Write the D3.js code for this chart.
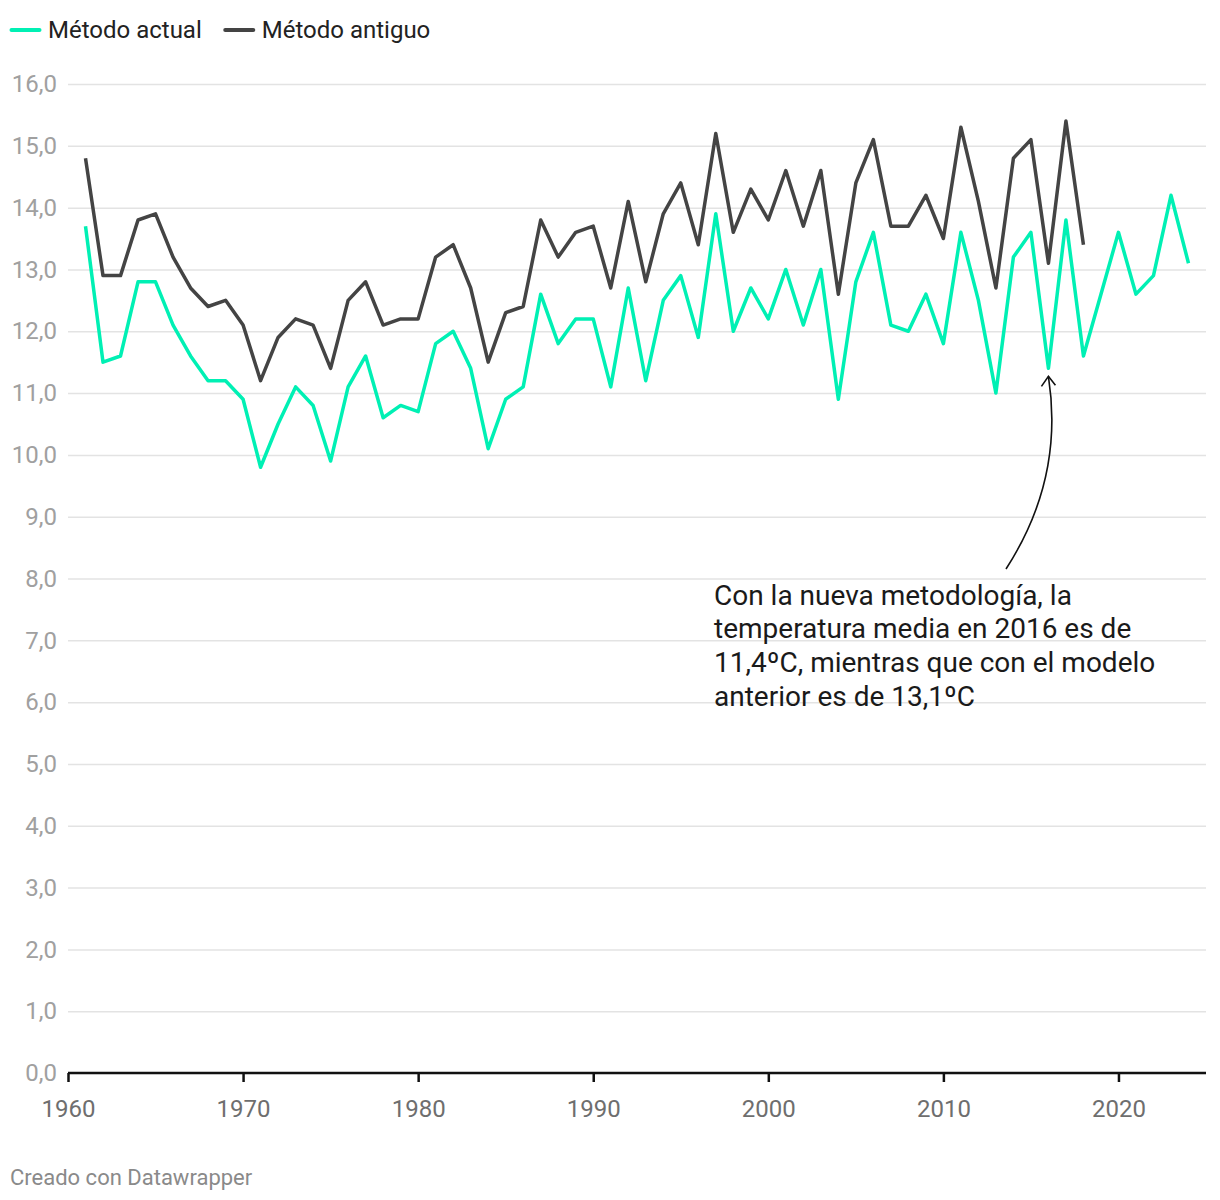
<!DOCTYPE html>
<html>
<head>
<meta charset="utf-8">
<script src="https://cdn.jsdelivr.net/npm/d3@7"></script>
<style>
  html, body { margin: 0; padding: 0; background: #fff; }
  svg { display: block; font-family: Roboto, "Noto Sans", sans-serif; }
</style>
</head>
<body>
<svg id="chart" width="1220" height="1200"></svg>
<script>
const years = d3.range(1961, 2025);
const actual = [
  13.7, 11.5, 11.6, 12.8, 12.8, 12.1, 11.6, 11.2, 11.2, 10.9,
  9.8, 10.5, 11.1, 10.8, 9.9, 11.1, 11.6, 10.6, 10.8, 10.7,
  11.8, 12.0, 11.4, 10.1, 10.9, 11.1, 12.6, 11.8, 12.2, 12.2,
  11.1, 12.7, 11.2, 12.5, 12.9, 11.9, 13.9, 12.0, 12.7, 12.2,
  13.0, 12.1, 13.0, 10.9, 12.8, 13.6, 12.1, 12.0, 12.6, 11.8,
  13.6, 12.5, 11.0, 13.2, 13.6, 11.4, 13.8, 11.6, 12.6, 13.6,
  12.6, 12.9, 14.2, 13.1
];
const oldYears = d3.range(1961, 2019);
const antiguo = [
  14.8, 12.9, 12.9, 13.8, 13.9, 13.2, 12.7, 12.4, 12.5, 12.1,
  11.2, 11.9, 12.2, 12.1, 11.4, 12.5, 12.8, 12.1, 12.2, 12.2,
  13.2, 13.4, 12.7, 11.5, 12.3, 12.4, 13.8, 13.2, 13.6, 13.7,
  12.7, 14.1, 12.8, 13.9, 14.4, 13.4, 15.2, 13.6, 14.3, 13.8,
  14.6, 13.7, 14.6, 12.6, 14.4, 15.1, 13.7, 13.7, 14.2, 13.5,
  15.3, 14.1, 12.7, 14.8, 15.1, 13.1, 15.4, 13.4
];
const seriesNames = ["Método actual", "Método antiguo"];
const seriesColors = ["#00f0b4", "#444444"];
const yTicks = d3.range(0, 17, 1);
const xTicks = [1960, 1970, 1980, 1990, 2000, 2010, 2020];
const annotationLines = [
  "Con la nueva metodología, la",
  "temperatura media en 2016 es de",
  "11,4ºC, mientras que con el modelo",
  "anterior es de 13,1ºC"
];
const annotationYear = 2016;
const annotationValue = 11.4;

(function () {
const svg = d3.select("#chart");
const mLeft = 68, mRight = 1206, mTop = 84, mBottom = 1073;

const x = d3.scaleLinear().domain([1960, 2025]).range([mLeft, mRight]);
const y = d3.scaleLinear().domain([0, 16]).range([mBottom, mTop]);

// gridlines
const fmt = d => d.toFixed(1).replace(".", ",");
const yAxis = d3.axisLeft(y).tickValues(yTicks).tickSize(-(mRight - mLeft)).tickFormat(fmt).tickPadding(11);
const gy = svg.append("g").attr("transform", `translate(${mLeft},0)`).call(yAxis);
gy.select(".domain").remove();
gy.selectAll(".tick line").attr("stroke", "#e3e3e3").attr("stroke-width", 1.5);
gy.selectAll(".tick text").attr("fill", "#a0a0a0").style("font-size", "24px").attr("font-family", "Roboto");

// x axis
const xAxis = d3.axisBottom(x).tickValues(xTicks).tickFormat(d3.format("d")).tickSize(9).tickPadding(18);
const gx = svg.append("g").attr("transform", `translate(0,${mBottom})`).call(xAxis);
gx.select(".domain").attr("stroke", "#111").attr("stroke-width", 2.5).attr("d", `M${mLeft},0H${mRight}`);
gx.selectAll(".tick line").attr("stroke", "#111").attr("stroke-width", 2.5);
gx.selectAll(".tick text").attr("fill", "#6e6e6e").style("font-size", "24px").attr("font-family", "Roboto");

// lines
const line = d3.line().x(d => x(d[0])).y(d => y(d[1]));
svg.append("path")
  .datum(oldYears.map((yr, i) => [yr, antiguo[i]]))
  .attr("fill", "none").attr("stroke", seriesColors[1]).attr("stroke-width", 3.5)
  .attr("stroke-linejoin", "round").attr("d", line);
svg.append("path")
  .datum(years.map((yr, i) => [yr, actual[i]]))
  .attr("fill", "none").attr("stroke", seriesColors[0]).attr("stroke-width", 3.5)
  .attr("stroke-linejoin", "round").attr("d", line);

// legend
const legend = svg.append("g");
let lx = 10;
seriesNames.forEach((name, i) => {
  legend.append("line").attr("x1", lx + 1.5).attr("x2", lx + 29.5).attr("y1", 30).attr("y2", 30)
    .attr("stroke", seriesColors[i]).attr("stroke-width", 4).attr("stroke-linecap", "round");
  const t = legend.append("text").attr("x", lx + 38).attr("y", 30).attr("dy", "0.35em")
    .attr("fill", "#222").style("font-size", "24px").text(name);
  lx += 38 + t.node().getComputedTextLength() + 22;
});

// annotation
const ax = x(annotationYear), ay = y(annotationValue);
const tipY = ay + 8;
const sx = 1006, sy = 569;
svg.append("path")
  .attr("d", `M${sx},${sy} Q${ax + 16},${(sy + tipY) / 2 + 6} ${ax},${tipY}`)
  .attr("fill", "none").attr("stroke", "#111").attr("stroke-width", 1.6);
svg.append("path")
  .attr("d", `M${ax - 7},${tipY + 10} L${ax},${tipY} L${ax + 7},${tipY + 9}`)
  .attr("fill", "none").attr("stroke", "#111").attr("stroke-width", 1.6);

const at = svg.append("text").attr("x", 714).attr("y", 595).attr("fill", "#1a1a1a").style("font-size", "28px");
annotationLines.forEach((l, i) => {
  at.append("tspan").attr("x", 714).attr("y", 595 + i * 33.6).attr("dy", "0.35em").text(l);
});

// footer
svg.append("text").attr("x", 10).attr("y", 1177).attr("dy", "0.35em")
  .attr("fill", "#8a8a8a").style("font-size", "22px").text("Creado con Datawrapper");
})();
</script>
</body>
</html>
